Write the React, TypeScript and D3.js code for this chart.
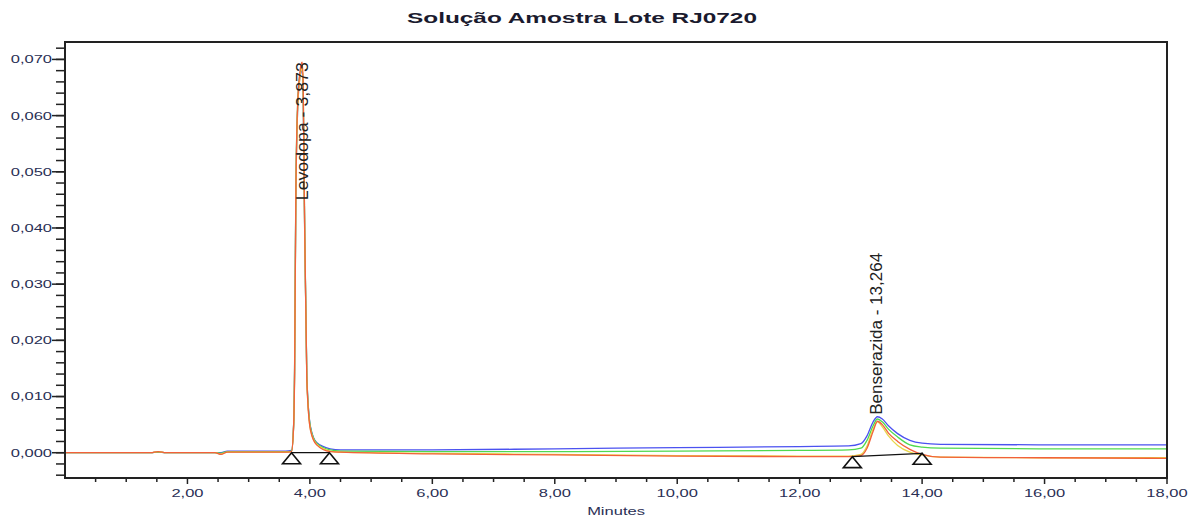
import React from 'react';
import * as d3 from 'd3';

// chromatogram sample times (minutes)
const times = [0, 1.4, 1.52, 1.65, 2.45, 2.55, 2.65, 2.8, 3.6, 3.7, 3.735, 3.75, 3.77, 3.8, 3.84, 3.873, 3.89, 3.91, 3.95, 4.01, 4.11, 4.33, 4.5, 6, 8, 10, 12, 12.8, 13.0, 13.1, 13.2, 13.27, 13.35, 13.45, 13.6, 13.8, 14.0, 14.3, 16, 18];

// absorbance (AU) per channel
const blueValues = [0, 0, 0.0001, 0, 0, 0, 0.0003, 0.0003, 0.0003, 0.0004, 0.005, 0.0145, 0.045, 0.061, 0.067, 0.068, 0.064, 0.044, 0.0135, 0.0046, 0.0018, 0.0007, 0.0005, 0.0005, 0.0007, 0.0009, 0.0011, 0.0012, 0.0016, 0.003, 0.0055, 0.0064, 0.006, 0.0048, 0.0034, 0.0022, 0.0017, 0.0015, 0.0014, 0.0014];
const greenValues = [0, 0, 0.0001, 0, 0, -0.0001, 0.0002, 0.0002, 0.0002, 0.0003, 0.0052, 0.015, 0.046, 0.062, 0.0675, 0.0685, 0.065, 0.045, 0.0135, 0.0045, 0.0017, 0.0005, 0.0003, 0.0002, 0.0002, 0.0003, 0.0004, 0.0005, 0.0008, 0.0022, 0.0048, 0.006, 0.0055, 0.0042, 0.0028, 0.0014, 0.001, 0.0008, 0.0007, 0.0007];
const yellowValues = [0, 0, 0.0002, 0, 0, -0.0002, 0.0001, 0.0001, 0.0001, 0.0002, 0.0048, 0.0135, 0.044, 0.061, 0.067, 0.0685, 0.065, 0.044, 0.0128, 0.0041, 0.0015, 0.0003, 0.0001, -0.0001, -0.0003, -0.0005, -0.0006, -0.0006, -0.0003, 0.0012, 0.0042, 0.0055, 0.0046, 0.003, 0.0013, 0.0001, -0.0004, -0.0008, -0.0009, -0.0009];
const redValues = [0, 0, 0.0002, 0, 0, -0.0003, 0.0001, 0.0001, 0.0001, 0.0002, 0.005, 0.014, 0.045, 0.062, 0.068, 0.0695, 0.066, 0.045, 0.013, 0.004, 0.0014, 0.0002, 0.0001, -0.0002, -0.0004, -0.0006, -0.0007, -0.0007, -0.0005, 0.0008, 0.0038, 0.0056, 0.005, 0.0035, 0.002, 0.0006, -0.0003, -0.0008, -0.0009, -0.001];

const seriesValues = [blueValues, greenValues, yellowValues, redValues];
const seriesColors = ['#4b52f0', '#4fd94f', '#e8d64a', '#f2603a'];

// peaks
const peakNames = ['Levodopa', 'Benserazida'];
const peakTimes = [3.873, 13.264];
const peakLabels = ['3,873', '13,264'];
const peakLabelLengths = [138, 162];
const baseStartTimes = [3.7, 12.86];
const baseStartValues = [0, -0.0007];
const baseEndTimes = [4.32, 14.0];
const baseEndValues = [0, -0.0001];

const xMajorTicks = [2, 4, 6, 8, 10, 12, 14, 16, 18];
const yMajorTicks = [0, 0.01, 0.02, 0.03, 0.04, 0.05, 0.06, 0.07];

const W = 1192;
const H = 517;
const left = 65;
const right = 1167;
const top = 42;
const bottom = 478;

const fmt = (v: number, d: number) => v.toFixed(d).replace('.', ',');

const App = () => {
  const x = d3.scaleLinear().domain([0, 18]).range([left, right]);
  const y = d3.scaleLinear().domain([-0.0045, 0.0731]).range([bottom, top]);

  const line = d3.line<number>()
    .x((_, i) => x(times[i]))
    .y(d => y(d))
    .curve(d3.curveMonotoneX);

  const xMinor = d3.range(0.5, 18.01, 0.5);
  const yMinor = d3.range(-0.004, 0.0725, 0.002);
  const font = '"Liberation Sans", Arial, sans-serif';

  return (
    <svg width={W} height={H} style={{ position: 'absolute', left: 0, top: 0, background: '#fff' }}>
      <text x={582} y={23} fontFamily={font} fontWeight="bold" fontSize={14} fill="#1a1a2e"
        textAnchor="middle" textLength={350} lengthAdjust="spacingAndGlyphs">Solução Amostra Lote RJ0720</text>

      {/* traces */}
      {seriesValues.map((vals, i) => (
        <path key={i} d={line(vals) || ''} fill="none" stroke={seriesColors[i]} strokeWidth={1.3} />
      ))}

      {/* integration baselines */}
      {peakNames.map((n, i) => {
        const x1 = x(baseStartTimes[i]), y1 = y(baseStartValues[i]);
        const x2 = x(baseEndTimes[i]), y2 = y(baseEndValues[i]);
        const tri = (cx: number, cy: number) => `M${cx},${cy} L${cx - 9},${cy + 11} L${cx + 9},${cy + 11} Z`;
        return (
          <g key={n}>
            <line x1={x1} y1={y1} x2={x2} y2={y2} stroke="#111" strokeWidth={1.3} />
            <path d={tri(x1, y1)} fill="none" stroke="#111" strokeWidth={1.6} />
            <path d={tri(x2, y2)} fill="none" stroke="#111" strokeWidth={1.6} />
          </g>
        );
      })}

      {/* peak labels */}
      {peakNames.map((n, i) => {
        const j = times.indexOf(peakTimes[i]) >= 0 ? times.indexOf(peakTimes[i]) : d3.minIndex(times, t => Math.abs(t - peakTimes[i]));
        const apex = y(d3.max(seriesValues, s => s[j]) as number);
        const len = peakLabelLengths[i];
        const fitsAbove = apex - len - 4 > top;
        return (
          <g key={n} transform={`translate(${x(peakTimes[i]) - 1},${fitsAbove ? apex - 2 : apex})`}>
            <g transform="rotate(-90) scale(1,1.45)">
              <text x={0} y={0} fontFamily={font} fontSize={12} fill="#222" dominantBaseline="central"
                textAnchor={fitsAbove ? 'start' : 'end'} textLength={len} lengthAdjust="spacingAndGlyphs">
                {`${n} - ${peakLabels[i]}`}
              </text>
            </g>
          </g>
        );
      })}

      {/* y axis */}
      {yMinor.map(v => (
        <line key={v} x1={left - 9} x2={left} y1={y(v)} y2={y(v)} stroke="#222" strokeWidth={1.5} />
      ))}
      {yMajorTicks.map(v => (
        <g key={v}>
          <line x1={left - 13} x2={left} y1={y(v)} y2={y(v)} stroke="#222" strokeWidth={1.5} />
          <g transform={`translate(${left - 13},${y(v)}) scale(1.5,1)`}>
            <text fontFamily={font} fontSize={11} fill="#2a2f55" textAnchor="end" dominantBaseline="central">{fmt(v, 3)}</text>
          </g>
        </g>
      ))}

      {/* x axis */}
      {xMinor.map(t => (
        <line key={t} x1={x(t)} x2={x(t)} y1={bottom} y2={bottom + (t % 2 === 0 ? 6 : 4)} stroke="#222" strokeWidth={1.5} />
      ))}
      {xMajorTicks.map(t => (
        <g key={t} transform={`translate(${x(t)},${bottom + 19}) scale(1.5,1)`}>
          <text fontFamily={font} fontSize={11} fill="#2a2f55" textAnchor="middle">{fmt(t, 2)}</text>
        </g>
      ))}
      <g transform={`translate(${(left + right) / 2},${H - 2}) scale(1.5,1)`}>
        <text fontFamily={font} fontSize={11} fill="#2a2f55" textAnchor="middle">Minutes</text>
      </g>

      {/* frame */}
      <path d={`M${left},${top} H${right} V${bottom} H${left} Z`} fill="none" stroke="#222" strokeWidth={2} />
    </svg>
  );
};

export default App;
